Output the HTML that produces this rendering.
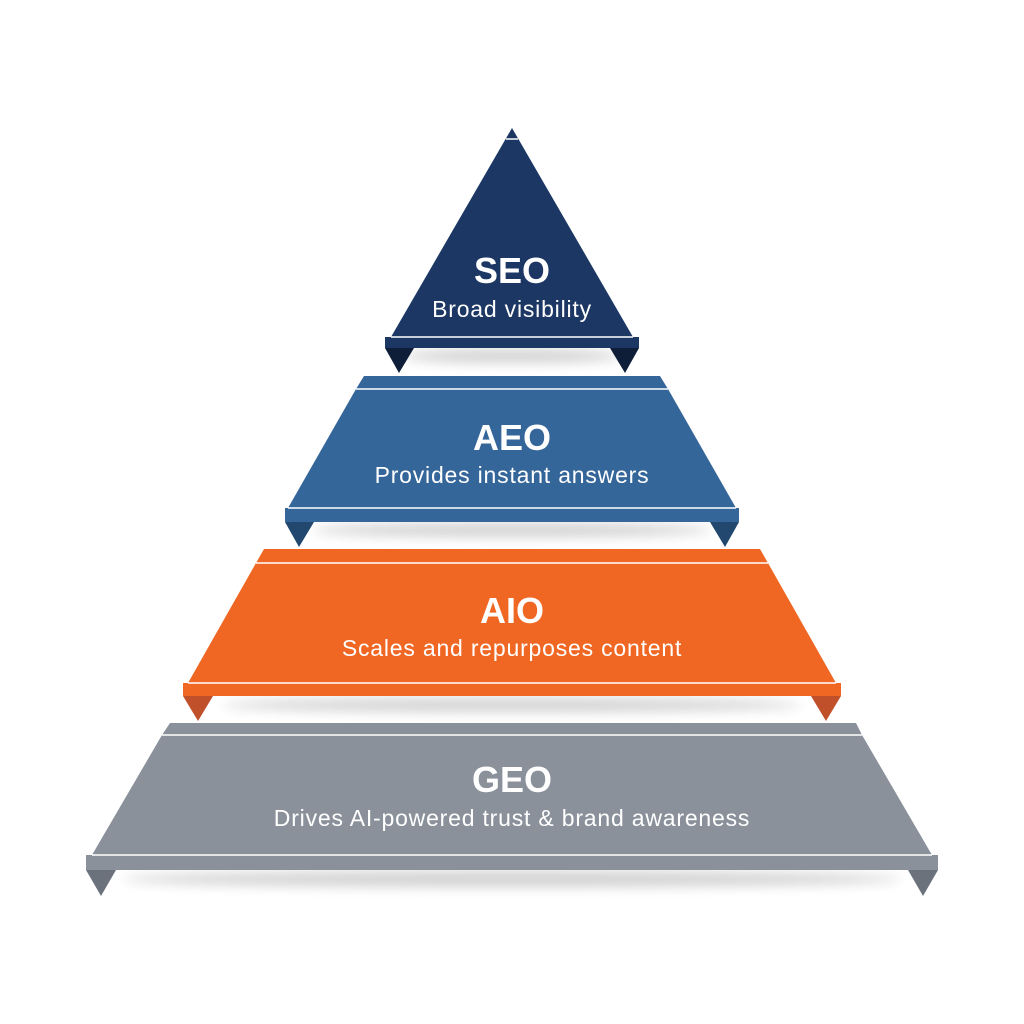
<!DOCTYPE html>
<html><head><meta charset="utf-8"><style>
html,body{margin:0;padding:0;background:#fff;width:1024px;height:1024px;overflow:hidden}
svg{display:block}
text{font-family:"Liberation Sans",sans-serif;fill:#fff;text-anchor:middle}
.t{font-size:36px;font-weight:bold}
.s{font-size:23px;letter-spacing:0.8px}
</style></head><body>
<svg width="1024" height="1024" viewBox="0 0 1024 1024">
<defs>
<filter id="b" x="-20%" y="-200%" width="140%" height="500%"><feGaussianBlur stdDeviation="6"/></filter>
</defs>
<ellipse cx="512" cy="356" rx="110" ry="7" fill="#000" opacity="0.18" filter="url(#b)"/>
<ellipse cx="512" cy="530" rx="200" ry="7" fill="#000" opacity="0.18" filter="url(#b)"/>
<ellipse cx="512" cy="705" rx="290" ry="7" fill="#000" opacity="0.18" filter="url(#b)"/>
<ellipse cx="512" cy="879" rx="390" ry="8" fill="#000" opacity="0.18" filter="url(#b)"/>

<polygon points="512,128 633,337 639,337 639,348 385,348 385,337 391,337" fill="#1c3764"/>
<line x1="506" y1="139" x2="518" y2="139" stroke="#fff" stroke-width="1.5"/>
<line x1="391" y1="337" x2="633" y2="337" stroke="#fff" stroke-width="1.5"/>
<polygon points="385,348 414,348 399,373" fill="#0f1e38"/>
<polygon points="610,348 639,348 625,373" fill="#0f1e38"/>
<text class="t" x="512" y="283">SEO</text>
<text class="s" x="512" y="317">Broad visibility</text>

<polygon points="364,376 660,376 668,389 736,508 739,508 739,522 285,522 285,508 288,508 356,389" fill="#356699"/>
<line x1="356" y1="389" x2="668" y2="389" stroke="#fff" stroke-width="1.5"/>
<line x1="288" y1="508" x2="736" y2="508" stroke="#fff" stroke-width="1.5"/>
<polygon points="285,522 314,522 299,547" fill="#22486f"/>
<polygon points="710,522 739,522 725,547" fill="#22486f"/>
<text class="t" x="512" y="450">AEO</text>
<text class="s" x="512" y="483">Provides instant answers</text>

<polygon points="264,549 760,549 768,563 836,683 841,683 841,696 183,696 183,683 188,683 256,563" fill="#f06724"/>
<line x1="256" y1="563" x2="768" y2="563" stroke="#fff" stroke-width="1.5"/>
<line x1="188" y1="683" x2="836" y2="683" stroke="#fff" stroke-width="1.5"/>
<polygon points="183,696 213,696 198,721" fill="#c0502a"/>
<polygon points="811,696 841,696 826,721" fill="#c0502a"/>
<text class="t" x="512" y="623">AIO</text>
<text class="s" x="512" y="656">Scales and repurposes content</text>

<polygon points="170,723 856,723 862,735 932,855 938,855 938,870 86,870 86,855 92,855 162,735" fill="#8a919b"/>
<line x1="162" y1="735" x2="862" y2="735" stroke="#fff" stroke-width="1.5"/>
<line x1="92" y1="855" x2="932" y2="855" stroke="#fff" stroke-width="1.5"/>
<polygon points="86,870 116,870 101,896" fill="#6b727c"/>
<polygon points="908,870 938,870 923,896" fill="#6b727c"/>
<text class="t" x="512" y="792">GEO</text>
<text class="s" x="512" y="826">Drives AI-powered trust &amp; brand awareness</text>
</svg>
</body></html>
